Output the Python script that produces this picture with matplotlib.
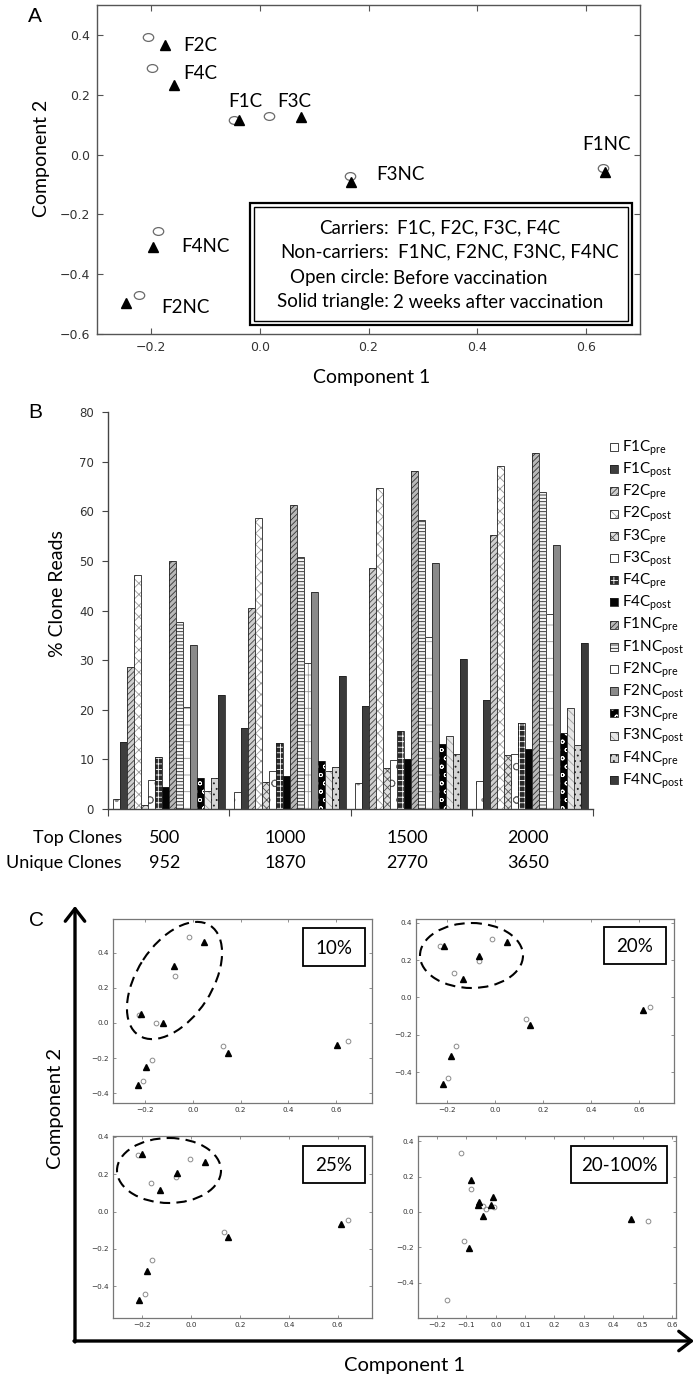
import numpy as np
import matplotlib
matplotlib.use('Agg')
import matplotlib.pyplot as plt
from matplotlib.patches import Rectangle, Ellipse, FancyArrowPatch
from matplotlib.path import Path
from matplotlib.transforms import Affine2D, blended_transform_factory

W, H = 697, 1378
DPI = 100
plt.rcParams['hatch.linewidth'] = 0.6
plt.rcParams['font.family'] = ['DejaVu Sans']
plt.rcParams['axes.unicode_minus'] = True
SANS = ['Lato', 'DejaVu Sans']

# ---------------- data : panel A ----------------
a_subjects = ['F1C', 'F2C', 'F3C', 'F4C', 'F1NC', 'F2NC', 'F3NC', 'F4NC']
a_pre_x = [-0.048, -0.206, 0.016, -0.198, 0.632, -0.222, 0.166, -0.187]
a_pre_y = [0.117, 0.394, 0.130, 0.291, -0.044, -0.468, -0.072, -0.257]
a_post_x = [-0.039, -0.174, 0.076, -0.159, 0.636, -0.246, 0.168, -0.196]
a_post_y = [0.116, 0.365, 0.124, 0.233, -0.059, -0.498, -0.092, -0.310]
a_label_x = [-0.058, -0.142, 0.032, -0.142, 0.594, -0.181, 0.215, -0.144]
a_label_y = [0.177, 0.363, 0.177, 0.270, 0.033, -0.510, -0.067, -0.307]
a_xticks = [-0.2, 0.0, 0.2, 0.4, 0.6]
a_yticks = [-0.6, -0.4, -0.2, 0.0, 0.2, 0.4]
a_key_left = ['Carriers:', 'Non-carriers:', 'Open circle:', 'Solid triangle:']
a_key_right = ['F1C, F2C, F3C, F4C', 'F1NC, F2NC, F3NC, F4NC',
               'Before vaccination', '2 weeks after vaccination']

# ---------------- data : panel B ----------------
b_series = ['F1C', 'F1C', 'F2C', 'F2C', 'F3C', 'F3C', 'F4C', 'F4C',
            'F1NC', 'F1NC', 'F2NC', 'F2NC', 'F3NC', 'F3NC', 'F4NC', 'F4NC']
b_phase = ['pre', 'post'] * 8
top_clones = ['500', '1000', '1500', '2000']
unique_clones = ['952', '1870', '2770', '3650']
reads_500 = [2.1, 13.6, 28.7, 47.2, 0.9, 5.9, 10.5, 4.4, 50.0, 37.6, 20.5, 33.0, 6.3, 3.6, 6.2, 22.9]
reads_1000 = [3.5, 16.3, 40.6, 58.6, 5.4, 7.6, 13.3, 6.6, 61.2, 50.7, 29.5, 43.8, 9.6, 7.6, 8.5, 26.9]
reads_1500 = [5.2, 20.7, 48.6, 64.6, 8.2, 9.9, 15.8, 10.1, 68.1, 58.2, 34.6, 49.5, 13.1, 14.8, 11.1, 30.2]
reads_2000 = [5.7, 22.0, 55.3, 69.2, 10.9, 11.1, 17.4, 12.1, 71.8, 63.9, 39.3, 53.1, 15.3, 20.3, 12.8, 33.4]

# ---------------- data : panel C ----------------
c10_pre_x = [-0.017, -0.074, -0.224, -0.155, 0.125, -0.172, -0.207, 0.649]
c10_pre_y = [0.49, 0.27, 0.046, 0.0, -0.133, -0.209, -0.333, -0.101]
c10_post_x = [0.047, -0.077, -0.215, -0.125, 0.146, -0.197, -0.231, 0.603]
c10_post_y = [0.46, 0.323, 0.053, 0.0, -0.171, -0.253, -0.352, -0.125]

c20_pre_x = [-0.230, -0.011, -0.069, -0.171, 0.128, -0.164, -0.196, 0.646]
c20_pre_y = [0.273, 0.311, 0.193, 0.129, -0.115, -0.258, -0.432, -0.050]
c20_post_x = [-0.214, 0.050, -0.069, -0.133, 0.146, -0.183, -0.218, 0.616]
c20_post_y = [0.276, 0.296, 0.223, 0.096, -0.149, -0.315, -0.462, -0.069]

c25_pre_x = [-0.216, -0.003, -0.060, -0.163, 0.136, -0.158, -0.189, 0.641]
c25_pre_y = [0.305, 0.282, 0.184, 0.155, -0.107, -0.259, -0.441, -0.046]
c25_post_x = [-0.199, 0.057, -0.057, -0.125, 0.151, -0.178, -0.212, 0.614]
c25_post_y = [0.307, 0.268, 0.207, 0.118, -0.136, -0.320, -0.473, -0.064]

call_pre_x = [-0.117, -0.086, -0.044, -0.033, -0.007, -0.108, -0.166, 0.519]
call_pre_y = [0.332, 0.130, 0.036, 0.019, 0.030, -0.162, -0.498, -0.049]
call_post_x = [-0.083, -0.057, -0.061, -0.010, -0.017, -0.044, -0.092, 0.461]
call_post_y = [0.182, 0.058, 0.038, 0.083, 0.041, -0.023, -0.203, -0.041]

c_titles = ['10%', '20%', '25%', '20-100%']

# ---------------- figure helpers ----------------
fig = plt.figure(figsize=(W / DPI, H / DPI), dpi=DPI)
fig.patch.set_facecolor('white')
# image-pixel coordinates (origin top-left) -> display
T = Affine2D().scale(1, -1).translate(0, H).scale(1 / DPI) + fig.dpi_scale_trans


def rect(l, t, r, b):
    return [l / W, 1 - b / H, (r - l) / W, (b - t) / H]


def ftext(x, y, s, **kw):
    kw.setdefault('family', SANS)
    return fig.text(x, y, s, transform=T, **kw)


# ======================= Panel A =======================
axA = fig.add_axes(rect(97, 5, 640, 334))
ell_marker = Path.unit_circle().transformed(Affine2D().scale(1, 0.75))
axA.plot(a_pre_x, a_pre_y, ls='none', marker=ell_marker, ms=7.5, mfc='none',
         mec='#6a6a6a', mew=0.9)
axA.plot(a_post_x, a_post_y, ls='none', marker='^', ms=7.5, color='black')
for s, lx, ly in zip(a_subjects, a_label_x, a_label_y):
    axA.text(lx, ly, s, ha='left', va='center', fontsize=13.5, family=SANS)
axA.set_xlim(-0.3, 0.7)
axA.set_ylim(-0.6, 0.5)
axA.set_xticks(a_xticks)
axA.set_yticks(a_yticks)
axA.set_xticklabels([f'{v:.1f}'.replace('-', '\u2212') for v in a_xticks])
axA.set_yticklabels([f'{v:.1f}'.replace('-', '\u2212') for v in a_yticks])
axA.tick_params(direction='in', top=True, right=True, length=4, width=0.8,
                color='#555', labelsize=9, labelcolor='#333', pad=5)
for sp in axA.spines.values():
    sp.set_color('#555')
    sp.set_linewidth(1.0)
axA.set_xlabel('Component 1', fontsize=14, family=SANS, va='center')
axA.xaxis.set_label_coords((372 - 97) / 543, (334 - 378) / 329)
axA.set_ylabel('Component 2', fontsize=14, family=SANS, va='center')
axA.yaxis.set_label_coords((42 - 97) / 543, (334 - 158) / 329)

# key box with double border
fig.add_artist(Rectangle((250, 203), 382, 122, transform=T, fill=False,
                         lw=1.6, ec='black'))
fig.add_artist(Rectangle((254, 207), 374, 114, transform=T, fill=False,
                         lw=1.0, ec='black'))
key_rows_y = [228, 252, 278, 302]
key_right_x = [397, 398, 393, 393]
for left, right, yy, rx in zip(a_key_left, a_key_right, key_rows_y, key_right_x):
    ftext(389, yy, left, ha='right', va='center', fontsize=13.5)
    ftext(rx, yy, right, ha='left', va='center', fontsize=13.5)

ftext(35, 16, 'A', ha='center', va='center', fontsize=15,
      family=['Liberation Sans', 'DejaVu Sans'])

# ======================= Panel B =======================
axB = fig.add_axes(rect(108, 412, 593, 809))
reads = np.array([reads_500, reads_1000, reads_1500, reads_2000])
n_series = reads.shape[1]
groups = np.arange(len(top_clones))
bw = 0.0578

faces = ['white', '#3e3e3e', '#cfcfcf', 'white', '#dedede', 'white', '#2a2a2a', '#050505',
         '#b8b8b8', '#f4f4f4', 'white', '#8a8a8a', '#000000', '#e6e6e6', '#d4d4d4', '#3a3a3a']
hatches = ['.', '', '//////', 'xxx', 'xxxx', 'o', '+++', '',
           '//////', '-----', '+', '', 'oo', '\\\\\\\\', '...', '']
hcolors = ['#888888', '#3e3e3e', '#444444', '#9a9a9a', '#555555', '#666666', '#ffffff', '#050505',
           '#333333', '#222222', '#9a9a9a', '#8a8a8a', '#ffffff', '#a0a0a0', '#222222', '#3a3a3a']

for i in range(n_series):
    xpos = groups + (i - (n_series - 1) / 2) * bw
    axB.bar(xpos, reads[:, i], bw, color=faces[i], hatch=hatches[i] or None,
            edgecolor=hcolors[i], linewidth=0)
    axB.bar(xpos, reads[:, i], bw, fill=False, edgecolor='#222222', linewidth=0.6)

axB.set_xlim(-0.5, len(top_clones) - 0.5)
axB.set_ylim(0, 80)
axB.set_yticks(np.arange(0, 81, 10))
axB.set_xticks(np.arange(-0.5, len(top_clones), 1.0))
axB.set_xticklabels([])
for sp in ['top', 'right']:
    axB.spines[sp].set_visible(False)
for sp in ['left', 'bottom']:
    axB.spines[sp].set_color('#444')
    axB.spines[sp].set_linewidth(1.0)
axB.tick_params(axis='y', direction='out', length=4, width=0.8, color='#444',
                labelsize=8.5, labelcolor='#333', pad=6)
axB.tick_params(axis='x', direction='out', length=5, width=0.8, color='#444')
axB.set_ylabel('% Clone Reads', fontsize=14, family=SANS, va='center')
axB.yaxis.set_label_coords((58 - 108) / 485, (809 - 594) / 397)

# legend (manual, right side)
leg_y0, leg_dy = 447, 22.2
for i in range(n_series):
    yc = leg_y0 + i * leg_dy
    fig.add_artist(Rectangle((610, yc - 4), 8, 8, transform=T, facecolor=faces[i],
                             hatch=hatches[i] or None, edgecolor=hcolors[i], lw=0))
    fig.add_artist(Rectangle((610, yc - 4), 8, 8, transform=T, fill=False,
                             edgecolor='#222222', lw=0.6))
    ftext(622, yc + 1, b_series[i] + r'$_{\mathregular{' + b_phase[i] + '}}$',
          ha='left', va='center', fontsize=11)

# Top / unique clone rows
bt = blended_transform_factory(axB.transData, T)
ftext(122, 838, 'Top Clones', ha='right', va='center', fontsize=13)
ftext(122, 863, 'Unique Clones', ha='right', va='center', fontsize=13)
for g, tc, uc in zip(groups, top_clones, unique_clones):
    axB.text(g - 0.035, 838, tc, transform=bt, ha='center', va='center',
             fontsize=13, family=SANS)
    axB.text(g - 0.035, 863, uc, transform=bt, ha='center', va='center',
             fontsize=13, family=SANS)

ftext(35, 413, 'B', ha='center', va='center', fontsize=15,
      family=['Liberation Sans', 'DejaVu Sans'])

# ======================= Panel C =======================
c_rects = [(113, 919, 372, 1103), (416, 919, 674, 1103),
           (113, 1136, 372, 1318), (418, 1136, 676, 1318)]
c_xlims = [(-0.334, 0.75), (-0.33, 0.746), (-0.318, 0.74), (-0.265, 0.614)]
c_ylims = [(-0.457, 0.594), (-0.566, 0.42), (-0.57, 0.405), (-0.6, 0.43)]
c_xticks = [np.arange(-0.2, 0.61, 0.2)] * 3 + [np.arange(-0.2, 0.61, 0.1)]
c_pre = [(c10_pre_x, c10_pre_y), (c20_pre_x, c20_pre_y),
         (c25_pre_x, c25_pre_y), (call_pre_x, call_pre_y)]
c_post = [(c10_post_x, c10_post_y), (c20_post_x, c20_post_y),
          (c25_post_x, c25_post_y), (call_post_x, call_post_y)]
c_boxes = [(303, 928, 365, 966), (604, 927, 666, 964),
           (303, 1146, 365, 1183), (571, 1146, 667, 1183)]


def fmt(v):
    s = f'{v:.1f}'
    if s == '-0.0':
        s = '0.0'
    return s.replace('-', '\u2212')


for k in range(4):
    ax = fig.add_axes(rect(*c_rects[k]))
    ax.plot(c_pre[k][0], c_pre[k][1], ls='none', marker='o', ms=3.4, mfc='none',
            mec='#8a8a8a', mew=0.7)
    ax.plot(c_post[k][0], c_post[k][1], ls='none', marker='^', ms=3.8, color='black')
    ax.set_xlim(*c_xlims[k])
    ax.set_ylim(*c_ylims[k])
    ax.set_xticks(c_xticks[k])
    ax.set_xticklabels([fmt(v) for v in c_xticks[k]])
    yt = [v for v in np.arange(-0.4, 0.41, 0.2) if c_ylims[k][0] <= v <= c_ylims[k][1] + 1e-9]
    ax.set_yticks(yt)
    ax.set_yticklabels([fmt(v) for v in yt])
    ax.tick_params(direction='in', top=True, right=True, length=2.5, width=0.5,
                   color='#666', labelsize=5.2, labelcolor='#333', pad=3)
    for sp in ax.spines.values():
        sp.set_color('#777')
        sp.set_linewidth(0.9)
    l, t, r, b = c_boxes[k]
    fig.add_artist(Rectangle((l, t), r - l, b - t, transform=T, fill=False,
                             lw=1.3, ec='black'))
    ftext((l + r) / 2, (t + b) / 2 + 1, c_titles[k], ha='center', va='center',
          fontsize=13.5)

# dashed grouping ellipses (image pixel coords)
c_ellipses = [((174.5, 980.5), 131, 75, -57), ((471.5, 955.5), 103, 65, 0),
              ((169, 1170.5), 104, 65, 0)]
for (cx, cy), ew, eh, ang in c_ellipses:
    fig.add_artist(Ellipse((cx, cy), ew, eh, angle=ang, transform=T, fill=False,
                           ec='black', lw=1.5, ls=(0, (5, 3))))

# big axes arrows
arrow_kw = dict(transform=T, arrowstyle='->,head_length=0.45,head_width=0.35',
                mutation_scale=20, lw=2.4, color='black', shrinkA=0, shrinkB=0)
fig.add_artist(FancyArrowPatch((75, 1342), (75, 906), **arrow_kw))
fig.add_artist(FancyArrowPatch((74, 1341), (694, 1341), **arrow_kw))
ftext(56, 1108, 'Component 2', rotation=90, ha='center', va='center', fontsize=14.5)
ftext(405, 1366, 'Component 1', ha='center', va='center', fontsize=14.5)
ftext(36, 921, 'C', ha='center', va='center', fontsize=15,
      family=['Liberation Sans', 'DejaVu Sans'])

fig.savefig('out.png', dpi=DPI, facecolor='white')
